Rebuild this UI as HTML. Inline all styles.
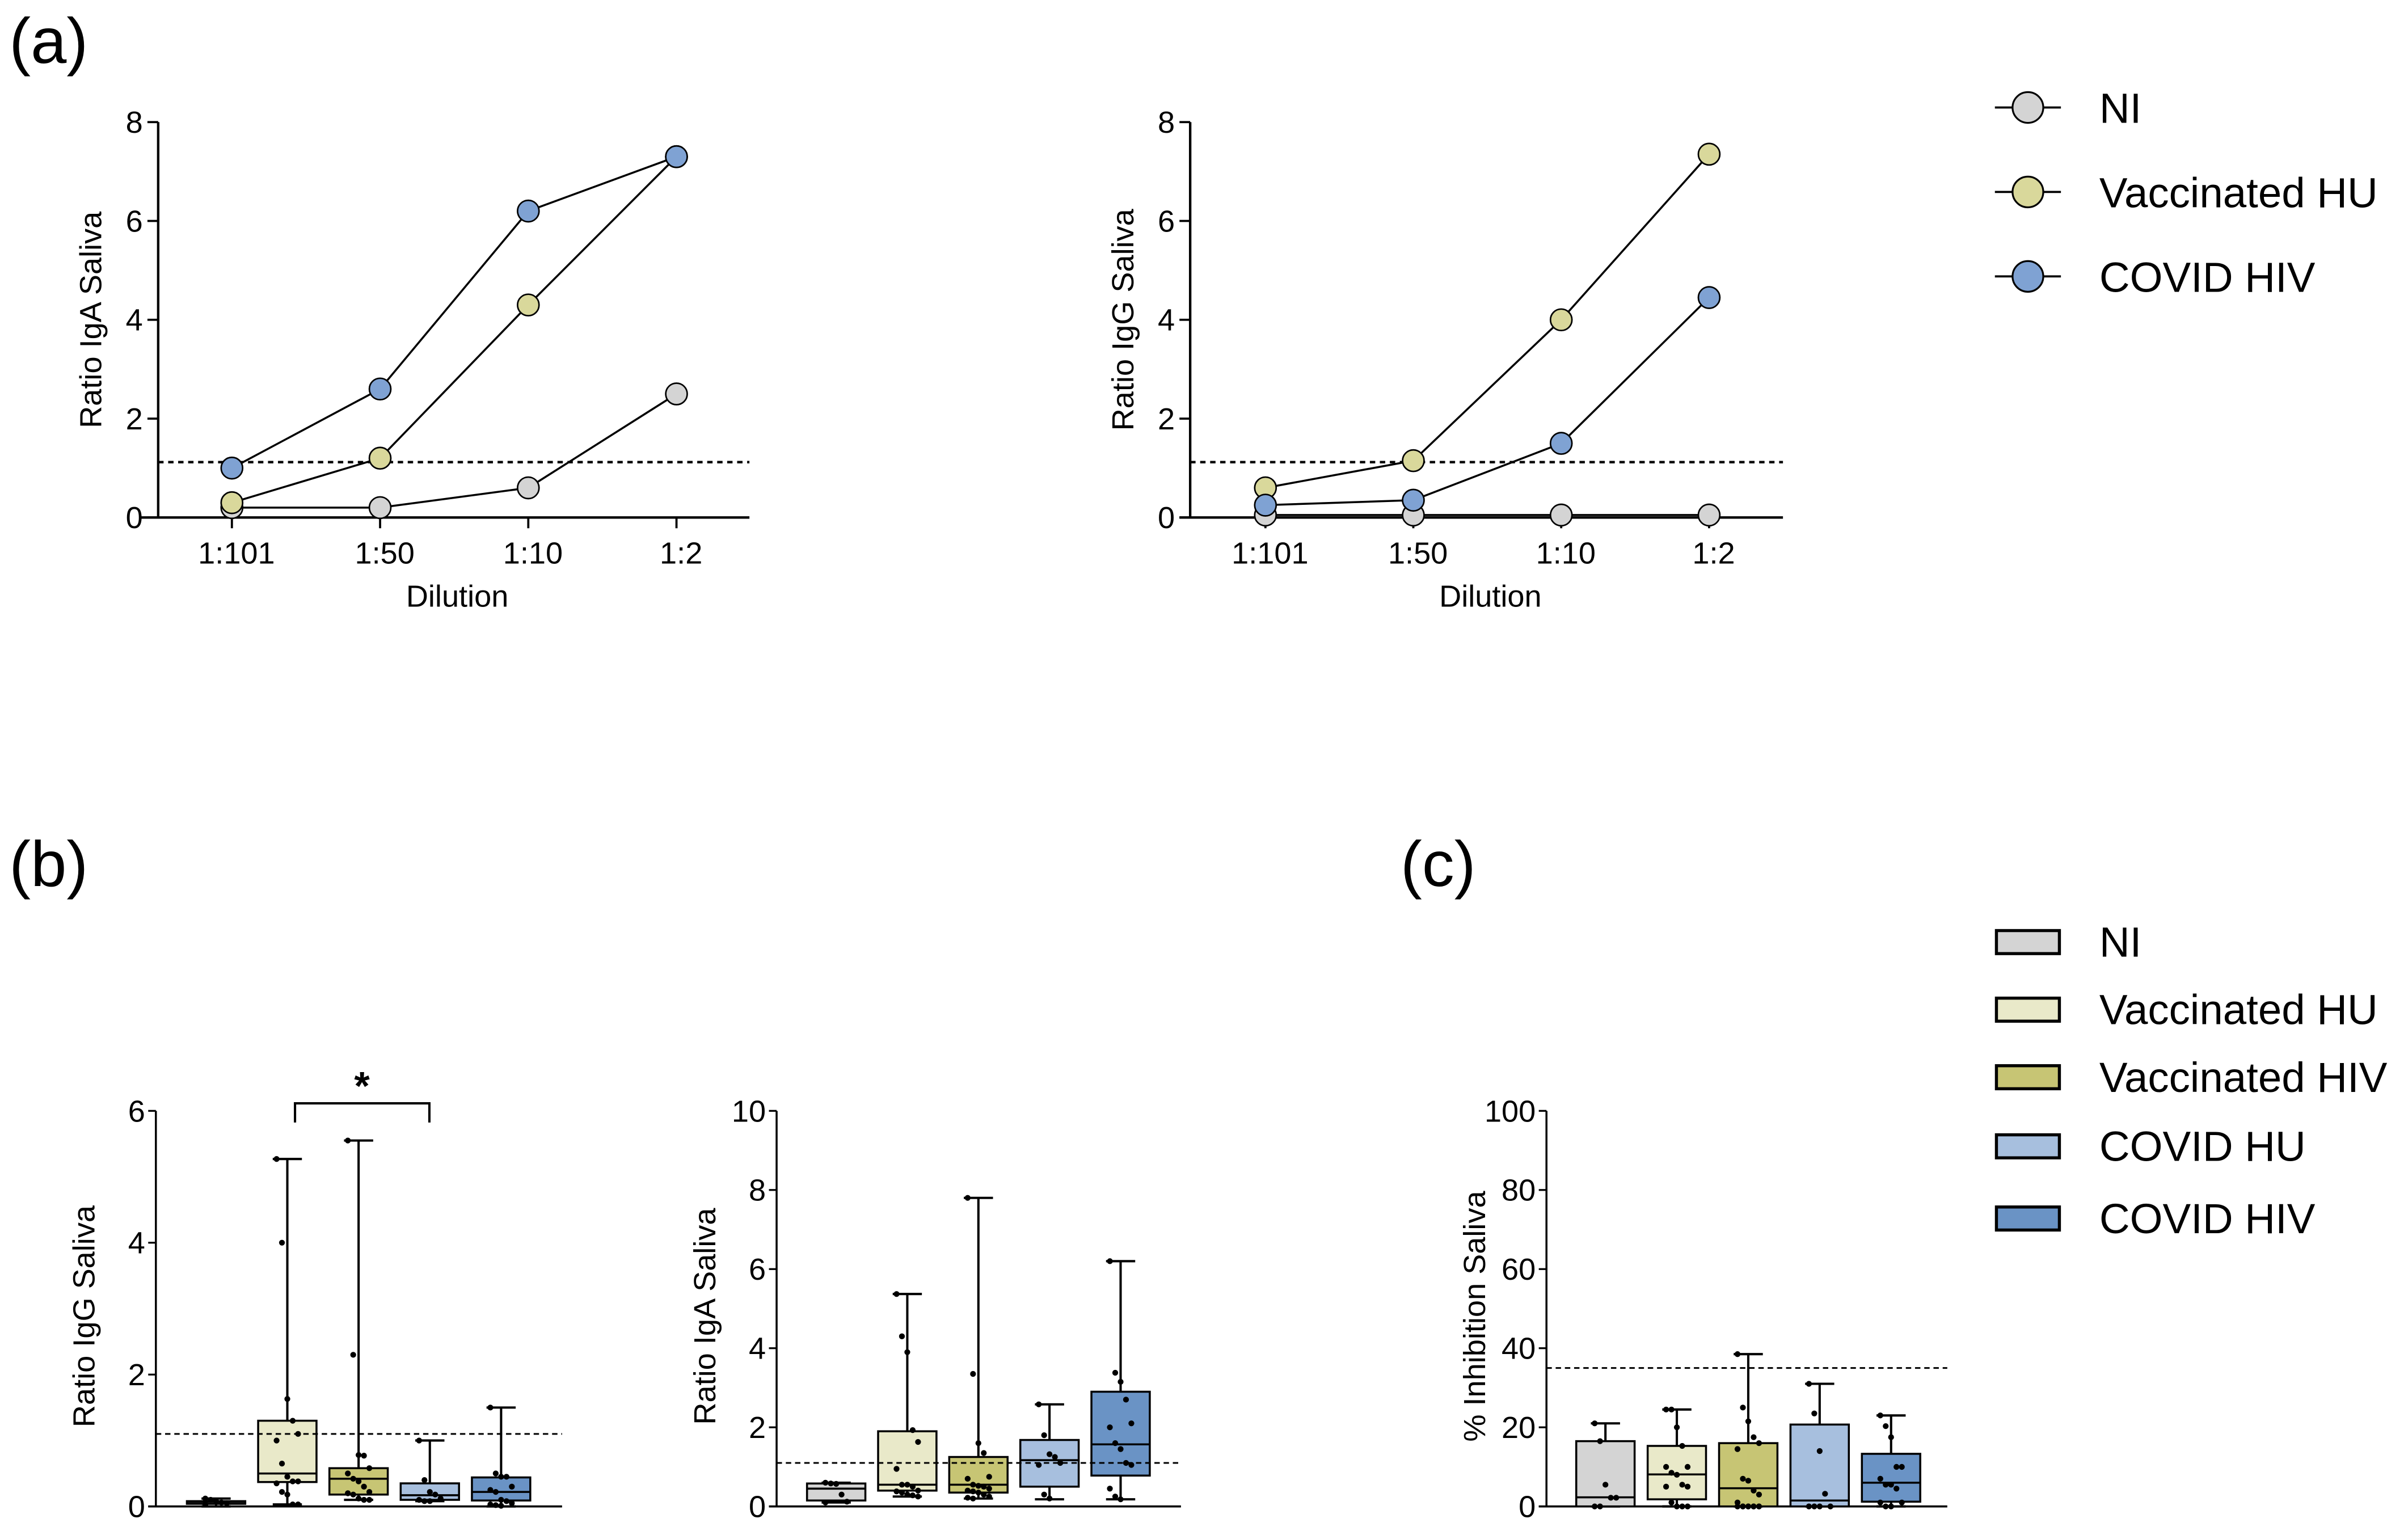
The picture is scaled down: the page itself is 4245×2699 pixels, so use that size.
<!DOCTYPE html>
<html><head><meta charset="utf-8"><style>
html,body{margin:0;padding:0;background:#fff}
svg{display:block}
text{font-family:"Liberation Sans",Arial,sans-serif;fill:#000}
</style></head><body>
<svg id="fig" width="4245" height="2699" viewBox="0 0 1568 997" preserveAspectRatio="none" xmlns="http://www.w3.org/2000/svg">
<rect width="1568" height="997" fill="#fff"/>
<text x="6" y="41" font-size="42">(a)</text>
<text x="6" y="577" font-size="42">(b)</text>
<text x="912" y="577" font-size="42">(c)</text>
<g id="root"></g>
</svg>
<script>
// ---- Panel (a) data ----
const dilutions = ["1:101","1:50","1:10","1:2"];
const lineGroups = ["NI","Vaccinated HU","COVID HIV"];
const igaNI = [0.2,0.2,0.6,2.5];
const igaVacc = [0.3,1.2,4.3,7.3];
const igaCovid = [1.0,2.6,6.2,7.3];
const iggNI = [0.05,0.05,0.05,0.05];
const iggVacc = [0.6,1.15,4.0,7.35];
const iggCovid = [0.25,0.35,1.5,4.45];
const lineTicks = [0,2,4,6,8];
const lineCutoff = 1.12;

// ---- Panel (b)/(c) data ----
const boxGroups = ["NI","Vaccinated HU","Vaccinated HIV","COVID HU","COVID HIV"];
// [min, q1, median, q3, max]
const iggBox = [[0.0,0.04,0.07,0.08,0.12],[0.03,0.37,0.5,1.3,5.27],[0.1,0.18,0.42,0.58,5.55],[0.08,0.1,0.17,0.35,1.0],[0.0,0.09,0.22,0.44,1.5]];
const iggPts = [[0.12,0.1,0.08,0.06,0.05,0.03],[5.27,4.0,1.63,1.3,1.1,1.0,0.65,0.45,0.38,0.38,0.35,0.22,0.18,0.03,0.03],[5.55,2.3,0.78,0.77,0.58,0.5,0.42,0.38,0.3,0.22,0.2,0.18,0.12,0.1,0.1],[1.0,0.4,0.22,0.18,0.12,0.1,0.08,0.08],[1.5,0.5,0.45,0.45,0.3,0.25,0.22,0.1,0.08,0.05,0.03,0.02,0.01]];
const iggTicks = [0,2,4,6];
const igaBox = [[0.1,0.15,0.45,0.58,0.6],[0.25,0.4,0.55,1.9,5.37],[0.2,0.35,0.55,1.25,7.8],[0.18,0.5,1.17,1.68,2.58],[0.18,0.78,1.57,2.9,6.2]];
const igaPts = [[0.6,0.58,0.57,0.3,0.12,0.1],[5.37,4.3,3.9,1.93,1.63,0.95,0.55,0.55,0.5,0.4,0.38,0.35,0.3,0.28,0.25],[7.8,3.35,1.6,1.35,0.75,0.7,0.55,0.52,0.5,0.45,0.4,0.38,0.35,0.3,0.25,0.22,0.2],[2.58,1.8,1.32,1.25,1.1,1.05,0.3,0.2],[6.2,3.38,3.15,2.7,2.1,2.0,1.6,1.45,1.1,1.05,0.45,0.25,0.18]];
const igaTicks = [0,2,4,6,8,10];
const inhBox = [[0,0,2.3,16.5,21],[0,1.8,8.1,15.3,24.5],[0,0,4.6,16,38.5],[0,0,1.5,20.7,31],[0,1.2,6,13.3,23]];
const inhPts = [[21,16.5,5.5,2.2,2.2,0,0],[24.5,24.5,20,15.3,10,10,8.5,8,5.5,5,5,1,0,0,0],[38.5,25,21.5,17.5,16,14.5,7,6.5,4,3,1,0,0,0,0,0,0,0,0,0],[31,23.5,14,3.2,0,0,0,0],[23,20.3,17.5,10,10,7,5.5,5.5,4.5,1,1,0,0]];
const inhTicks = [0,20,40,60,80,100];

const lineColors = ["#d4d4d4","#d9d89b","#7fa2d3"];
const boxColors = ["#d4d4d4","#e9e9c9","#c7c574","#a7bfde","#6a93c5"];

const NS="http://www.w3.org/2000/svg";
const root=document.getElementById('root');
function mk(tag,attrs,parent){const e=document.createElementNS(NS,tag);for(const k in attrs)e.setAttribute(k,attrs[k]);(parent||root).appendChild(e);return e;}
function txt(s,attrs,parent){const e=mk('text',attrs,parent);e.textContent=s;return e;}

function linePanel(name,ax,x0,xEnd,xCats,series,yLabel){
  const g=mk('g',{});
  
  
  const y0=337,yTop=79.5,maxV=8;
  const ys=v=>y0-(v/maxV)*(y0-yTop);
  const xs=i=>xCats[0]+i*(xCats[1]-xCats[0]);
  const yax=mk('line',{x1:ax,y1:yTop,x2:ax,y2:y0,stroke:'#000','stroke-width':1.6},g);
  
  
  const xax=mk('line',{x1:x0,y1:y0,x2:xEnd,y2:y0,stroke:'#000','stroke-width':1.6},g);
  
  
  lineTicks.forEach(t=>{
    mk('line',{x1:ax-7,y1:ys(t),x2:ax,y2:ys(t),stroke:'#000','stroke-width':1.4},g);
    const tl=txt(String(t),{x:ax-10,y:ys(t)+7,'font-size':20,'text-anchor':'end'},g);
    
    
  });
  dilutions.forEach((d,i)=>{
    mk('line',{x1:xs(i),y1:y0,x2:xs(i),y2:y0+7,stroke:'#000','stroke-width':1.4},g);
    const tl=txt(d,{x:xs(i)+3,y:y0+30,'font-size':20,'text-anchor':'middle'},g);
    
    
  });
  const cut=mk('line',{x1:ax,y1:ys(lineCutoff),x2:xEnd,y2:ys(lineCutoff),stroke:'#000','stroke-width':1.6,'stroke-dasharray':'3.5,3'},g);
  
  
  const xl=txt('Dilution',{x:(xCats[0]+xCats[3])/2+2,y:y0+58,'font-size':20,'text-anchor':'middle'},g);
  
  
  const yl=txt(yLabel,{x:0,y:0,'font-size':20,'text-anchor':'middle',transform:`translate(${ax-37},${(y0+yTop)/2}) rotate(-90)`},g);
  
  
  series.forEach((vals,si)=>{
    const pts=vals.map((v,i)=>xs(i)+','+ys(v)).join(' ');
    const pl=mk('polyline',{points:pts,fill:'none',stroke:'#000','stroke-width':1.3},g);
    
    
  });
  [0,1,2].forEach(si=>{
    series[si].forEach((v,i)=>{
      const c=mk('circle',{cx:xs(i),cy:ys(v),r:7,fill:lineColors[si],stroke:'#000','stroke-width':1},g);
      
      
    });
  });
}
linePanel('iga-dilution-chart',103,92,488,[151,247.5,344,440.5],[igaNI,igaVacc,igaCovid],'Ratio IgA Saliva');
linePanel('igg-dilution-chart',775,768,1161,[824,920.3,1016.6,1113],[iggNI,iggVacc,iggCovid],'Ratio IgG Saliva');

// legend a
lineGroups.forEach((n,i)=>{
  const y=70+i*55;
  const g=mk('g',{});
  
  
  mk('line',{x1:1299,y1:y,x2:1342,y2:y,stroke:'#000','stroke-width':1.4},g);
  mk('circle',{cx:1320.5,cy:y,r:10,fill:lineColors[i],stroke:'#000','stroke-width':1.2},g);
  txt(n,{x:1367,y:y+10,'font-size':27.5},g);
});

function boxPanel(name,ax,xEnd,centers,boxes,pts,ticks,maxV,cutoff,yLabel,tickFmt){
  const g=mk('g',{});
  
  
  const y0=981,yTop=723.4;
  const ys=v=>y0-(v/maxV)*(y0-yTop);
  const xs=i=>centers[0]+i*(centers[1]-centers[0]);
  const hw=19,cap=9.5;
  const yax=mk('line',{x1:ax,y1:yTop,x2:ax,y2:y0,stroke:'#000','stroke-width':1.3},g);
  
  
  const xax=mk('line',{x1:ax-5,y1:y0,x2:xEnd,y2:y0,stroke:'#000','stroke-width':1.3},g);
  
  
  ticks.forEach(t=>{
    mk('line',{x1:ax-5,y1:ys(t),x2:ax,y2:ys(t),stroke:'#000','stroke-width':1.2},g);
    const tl=txt(String(t),{x:ax-7,y:ys(t)+7,'font-size':20,'text-anchor':'end'},g);
    
    
  });
  const yl=txt(yLabel,{x:0,y:0,'font-size':20,'text-anchor':'middle',transform:`translate(${ax-40},${(y0+yTop)/2+5}) rotate(-90)`},g);
  
  
  boxes.forEach((b,i)=>{
    const x=xs(i);
    const wl=mk('line',{x1:x,y1:ys(b[0]),x2:x,y2:ys(b[4]),stroke:'#000','stroke-width':1.5},g);
    
    
    mk('line',{x1:x-cap,y1:ys(b[4]),x2:x+cap,y2:ys(b[4]),stroke:'#000','stroke-width':1.5},g);
    mk('line',{x1:x-cap,y1:ys(b[0]),x2:x+cap,y2:ys(b[0]),stroke:'#000','stroke-width':1.5},g);
    const r=mk('rect',{x:x-hw,y:ys(b[3]),width:2*hw,height:Math.max(ys(b[1])-ys(b[3]),1),fill:boxColors[i],stroke:'#000','stroke-width':1.3},g);
    
    
    mk('line',{x1:x-hw,y1:ys(b[2]),x2:x+hw,y2:ys(b[2]),stroke:'#000','stroke-width':1.3},g);
  });
  const cut=mk('line',{x1:ax,y1:ys(cutoff),x2:xEnd,y2:ys(cutoff),stroke:'#000','stroke-width':1.1,'stroke-dasharray':'3.5,2.5'},g);
  
  
  pts.forEach((arr,i)=>{
    arr.forEach((v,j)=>{
      const off=((j%5)-2)*3.5;
      const c=mk('circle',{cx:xs(i)+off,cy:ys(v),r:1.9,fill:'#000'},g);
      
      
    });
  });
  return {g,xs,ys};
}
const p1=boxPanel('igg-box-chart',101.5,366,[140.7,187.1],iggBox,iggPts,iggTicks,6,1.1,'Ratio IgG Saliva');
boxPanel('iga-box-chart',505.7,769,[544.5,590.8],igaBox,igaPts,igaTicks,10,1.1,'Ratio IgA Saliva');
boxPanel('inhibition-box-chart',1007,1268,[1045.4,1091.9],inhBox,inhPts,inhTicks,100,35,'% Inhibition Saliva');

// significance bracket
const br=mk('polyline',{points:`${p1.xs(1)+5},731 ${p1.xs(1)+5},718.5 ${p1.xs(3)-0.3},718.5 ${p1.xs(3)-0.3},731`,fill:'none',stroke:'#000','stroke-width':1.5},p1.g);


const st=txt('*',{x:235.7,y:716,'font-size':26,'text-anchor':'middle','font-weight':'bold'},p1.g);



// legend b
boxGroups.forEach((n,i)=>{
  const y=[606,650,694,739,786][i];
  const g=mk('g',{});
  
  
  mk('rect',{x:1300,y:y,width:41,height:15,fill:boxColors[i],stroke:'#000','stroke-width':2},g);
  txt(n,{x:1367,y:y+17,'font-size':27.5},g);
});
</script>
</body></html>
